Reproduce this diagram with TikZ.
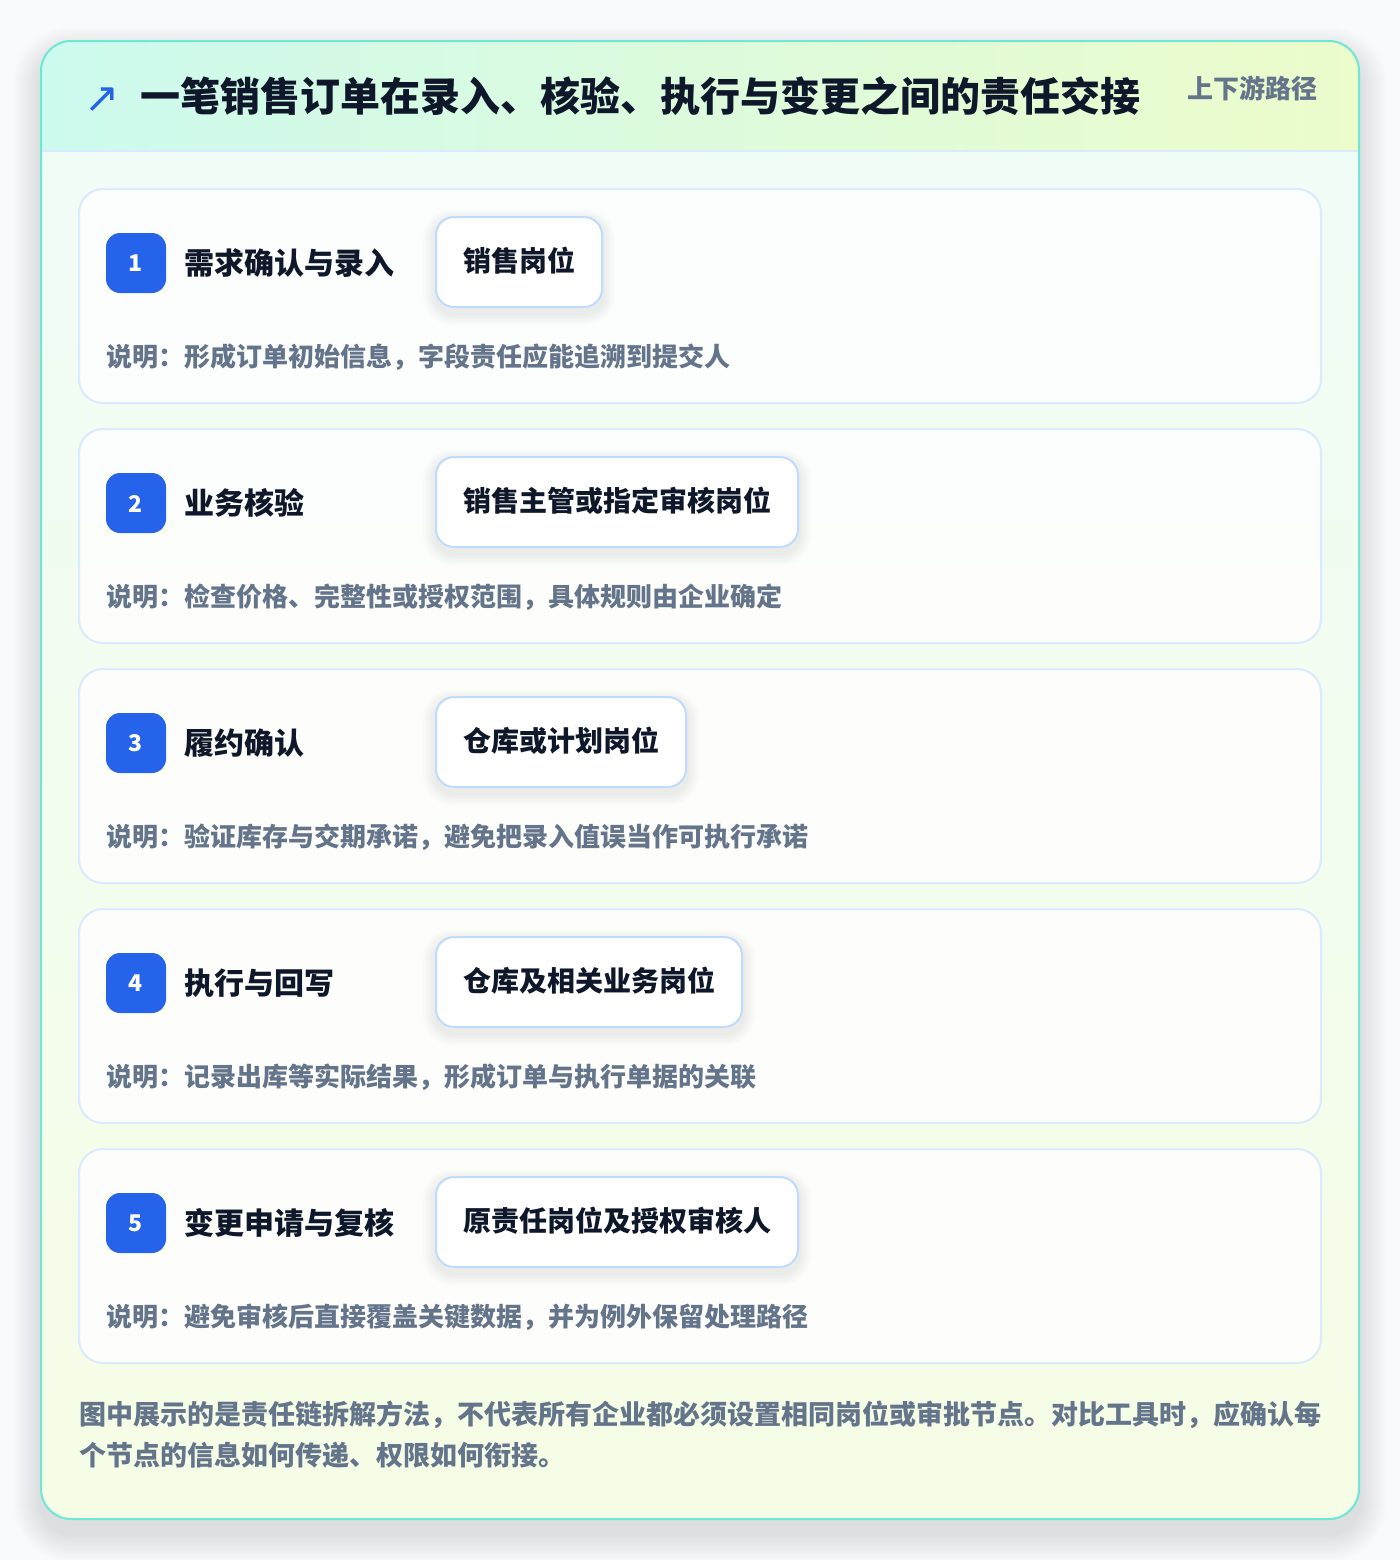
\documentclass[tikz,border=0pt]{standalone}
\usepackage{fontspec}
\setmainfont{Noto Sans CJK SC}
\newfontfamily\symfont{DejaVu Sans}
\definecolor{pagebg}{HTML}{F8FAFB}
\definecolor{outerborder}{HTML}{6EE7D5}
\definecolor{bodytop}{HTML}{EFFCF7}
\definecolor{bodybot}{HTML}{F6FDE6}
\definecolor{hdrleft}{HTML}{CDFAEE}
\definecolor{hdrright}{HTML}{ECFCCB}
\definecolor{hdrline}{HTML}{DBEAFE}
\definecolor{cardborder}{HTML}{DBEAFE}
\definecolor{roleborder}{HTML}{BFDBFE}
\definecolor{badgeblue}{HTML}{2563EB}
\definecolor{titleink}{HTML}{0F172A}
\definecolor{mutedink}{HTML}{64748B}
\pgfdeclarelayer{cardlayer}
\pgfdeclarelayer{shadowlayer}
\pgfsetlayers{cardlayer,shadowlayer,main}
\tikzset{
  cardbox/.style={draw=cardborder, line width=1pt, fill=white, fill opacity=0.85, rounded corners=12pt},
  badgebox/.style={fill=badgeblue, rounded corners=7pt},
  badgetext/.style={text=white, font=\fontsize{11.5pt}{13pt}\selectfont\bfseries, anchor=center},
  steptitle/.style={text=titleink, font=\fontsize{15pt}{18pt}\selectfont\bfseries, anchor=base west, inner sep=0pt},
  rolebox/.style={draw=roleborder, line width=1pt, fill=white, rounded corners=9pt, anchor=west,
    inner xsep=13.5pt, inner ysep=0pt, minimum height=45pt, text height=0.97em, text depth=0pt,
    text=titleink, font=\fontsize{14pt}{17pt}\selectfont\bfseries},
  desctext/.style={text=mutedink, font=\fontsize{13pt}{16pt}\selectfont\bfseries, anchor=base west, inner sep=0pt},
  notetext/.style={text=mutedink, font=\fontsize{13.5pt}{16pt}\selectfont\bfseries, anchor=base west, inner sep=0pt},
}
\newcommand\stepcard[5]{%
  \begin{scope}[shift={(0,#1)}]
    \begin{pgfonlayer}{cardlayer}
      \path[cardbox] (79,0) rectangle (1321,214);
      \fill[badgebox] (106,44) rectangle (166,104);
    \end{pgfonlayer}
    \node[badgetext] (badge#2) at (136,74.5) {#2};
    \node[steptitle] (title#2) at (184,85) {#3};
    \node[rolebox] (role#2) at (435,73) {#4};
    \begin{pgfonlayer}{shadowlayer}
      \foreach \k in {1,...,6}{
        \fill[black, opacity=0.012, rounded corners=9pt+\k pt]
          ([xshift=-\k pt, yshift=-\k pt-2.5pt]role#2.south west) rectangle ([xshift=\k pt, yshift=\k pt-2.5pt]role#2.north east);
      }
    \end{pgfonlayer}
    \node[desctext] (desc#2) at (106,177.5) {#5};
  \end{scope}%
}
\begin{document}
\begin{tikzpicture}[x=0.5pt,y=-0.5pt]
\useasboundingbox (0,0) rectangle (1400,1560);
\begin{pgfonlayer}{cardlayer}
\fill[pagebg] (0,0) rectangle (1400,1560);
% outer card soft shadow
\foreach \k in {1,...,14}{
  \fill[black, opacity=0.007, rounded corners=15pt+\k pt]
    (41-2*\k,41-2*\k+14) rectangle (1359+2*\k,1519+2*\k+14);
}
% outer card body
\shade[top color=bodytop, bottom color=bodybot, rounded corners=15pt] (41,41) rectangle (1359,1519);
% header band
\begin{scope}
  \clip[rounded corners=15pt] (41,41) rectangle (1359,1519);
  \shade[left color=hdrleft, right color=hdrright] (41,41) rectangle (1359,151);
\end{scope}
\draw[hdrline, line width=1pt] (42,151) -- (1358,151);
\draw[outerborder, line width=1pt, rounded corners=15pt] (41,41) rectangle (1359,1519);
\end{pgfonlayer}
% header texts
\node[anchor=base west, inner sep=0pt, text=badgeblue, font=\symfont\fontsize{21pt}{24pt}\selectfont] (icon) at (84,112) {↗};
\node[anchor=base west, inner sep=0pt, text=titleink, font=\fontsize{20pt}{24pt}\selectfont\bfseries] (maintitle) at (140,111) {一笔销售订单在录入、核验、执行与变更之间的责任交接};
\node[anchor=base east, inner sep=0pt, text=mutedink, font=\fontsize{13pt}{16pt}\selectfont\bfseries] (tag) at (1318,98) {上下游路径};
% cards
\stepcard{189}{1}{需求确认与录入}{销售岗位}{说明：形成订单初始信息，字段责任应能追溯到提交人}
\stepcard{429}{2}{业务核验}{销售主管或指定审核岗位}{说明：检查价格、完整性或授权范围，具体规则由企业确定}
\stepcard{669}{3}{履约确认}{仓库或计划岗位}{说明：验证库存与交期承诺，避免把录入值误当作可执行承诺}
\stepcard{909}{4}{执行与回写}{仓库及相关业务岗位}{说明：记录出库等实际结果，形成订单与执行单据的关联}
\stepcard{1149}{5}{变更申请与复核}{原责任岗位及授权审核人}{说明：避免审核后直接覆盖关键数据，并为例外保留处理路径}
% footer note
\node[notetext] (note1) at (79,1424.5) {图中展示的是责任链拆解方法，不代表所有企业都必须设置相同岗位或审批节点。对比工具时，应确认每};
\node[notetext] (note2) at (79,1465.5) {个节点的信息如何传递、权限如何衔接。};
\end{tikzpicture}
\end{document}
